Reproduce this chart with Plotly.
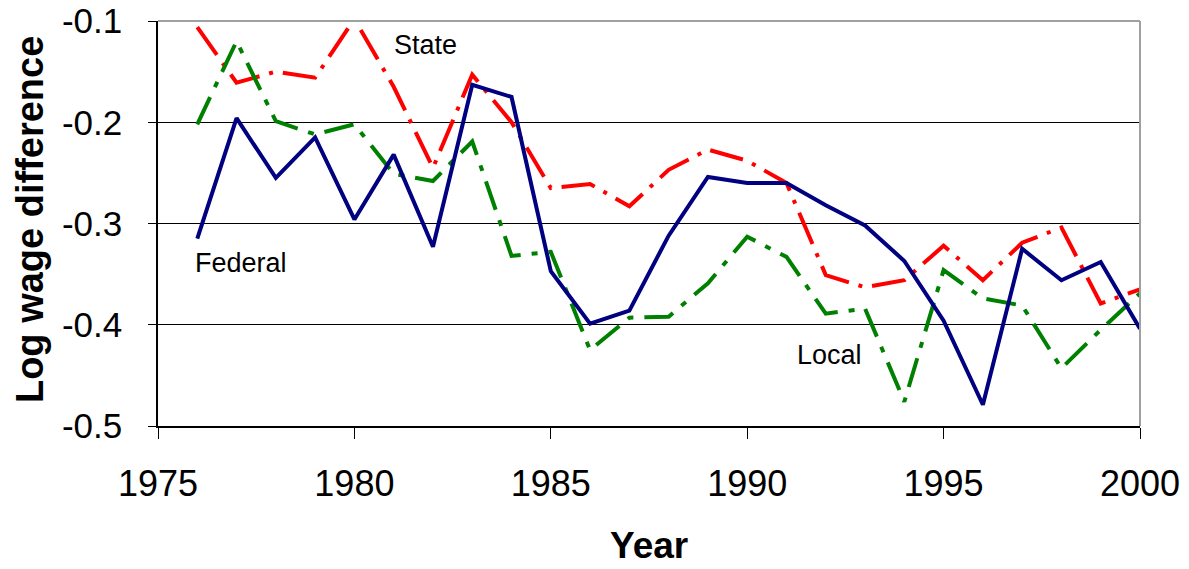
import plotly.graph_objects as go

years = list(range(1976, 2001))
federal = [-0.315, -0.196, -0.255, -0.215, -0.296, -0.232, -0.323, -0.163, -0.175, -0.347,
           -0.399, -0.386, -0.312, -0.254, -0.260, -0.260, -0.282, -0.302, -0.337, -0.396,
           -0.479, -0.325, -0.356, -0.338, -0.404]
state = [-0.106, -0.161, -0.150, -0.156, -0.098, -0.165, -0.245, -0.153, -0.200, -0.265,
         -0.261, -0.283, -0.247, -0.227, -0.238, -0.260, -0.351, -0.363, -0.356, -0.322,
         -0.356, -0.319, -0.304, -0.379, -0.365]
local = [-0.202, -0.120, -0.199, -0.212, -0.202, -0.251, -0.258, -0.219, -0.332, -0.328,
         -0.425, -0.393, -0.392, -0.359, -0.313, -0.333, -0.389, -0.384, -0.476, -0.346,
         -0.374, -0.381, -0.443, -0.405, -0.369]

x_ticks = [1975, 1980, 1985, 1990, 1995, 2000]
y_ticks = [-0.5, -0.4, -0.3, -0.2, -0.1]
y_ticktext = ["-0.5", "-0.4", "-0.3", "-0.2", "-0.1"]

FONT = "Liberation Sans, Arial, sans-serif"

fig = go.Figure()
fig.add_trace(go.Scatter(x=years, y=state, mode="lines", name="State",
                         line=dict(color="#FF0000", width=4, dash="34px,10px,4px,10px")))
fig.add_trace(go.Scatter(x=years, y=local, mode="lines", name="Local",
                         line=dict(color="#008000", width=4, dash="30px,11px,6px,11px")))
fig.add_trace(go.Scatter(x=years, y=federal, mode="lines", name="Federal",
                         line=dict(color="#000080", width=4)))

annos = [
    dict(x=1981.82, y=-0.1237, text="State"),
    dict(x=1977.11, y=-0.339, text="Federal"),
    dict(x=1992.1, y=-0.43, text="Local"),
]
for a in annos:
    fig.add_annotation(x=a["x"], y=a["y"], text=a["text"], showarrow=False,
                       xanchor="center", yanchor="middle",
                       font=dict(family=FONT, size=27, color="black"))

# axis titles as annotations (paper coordinates)
fig.add_annotation(xref="paper", yref="paper", x=-0.1303, y=0.5086,
                   text="<b>Log wage difference</b>", textangle=-90, showarrow=False,
                   xanchor="center", yanchor="middle",
                   font=dict(family=FONT, size=38, color="black"))
fig.add_annotation(xref="paper", yref="paper", x=0.5, y=-0.294,
                   text="<b>Year</b>", showarrow=False,
                   xanchor="center", yanchor="middle",
                   font=dict(family=FONT, size=37, color="black"))

fig.update_layout(
    width=1189, height=569,
    margin=dict(l=158, r=49, t=21, b=143),
    paper_bgcolor="white", plot_bgcolor="white",
    showlegend=False,
    font=dict(family=FONT, color="black"),
    xaxis=dict(
        range=[1975, 2000], tickvals=x_ticks, ticktext=[str(v) for v in x_ticks],
        showgrid=False, zeroline=False, automargin=False,
        showline=True, linecolor="black", linewidth=1.5, mirror=False,
        ticks="outside", ticklen=11, tickcolor="black", tickwidth=1,
        tickfont=dict(family=FONT, size=36, color="black"),
        ticklabelstandoff=14, ticklabeloverflow="allow",
    ),
    yaxis=dict(
        range=[-0.5, -0.1], tickvals=y_ticks, ticktext=y_ticktext,
        showgrid=True, gridcolor="black", gridwidth=1,
        zeroline=False, automargin=False,
        showline=True, linecolor="black", linewidth=1.5, mirror=False,
        ticks="outside", ticklen=8, tickcolor="black", tickwidth=1,
        tickfont=dict(family=FONT, size=35, color="black"),
        ticklabelstandoff=19, ticklabeloverflow="allow",
    ),
    shapes=[
        dict(type="line", xref="paper", yref="paper", x0=0, x1=1, y0=1, y1=1,
             line=dict(color="#A0A0A0", width=2)),
        dict(type="line", xref="paper", yref="paper", x0=1, x1=1, y0=0, y1=1,
             line=dict(color="#A0A0A0", width=2)),
    ],
)

fig.write_html("out.html", config={"displayModeBar": False},
               post_script="document.body.style.margin='0';document.body.style.overflow='hidden';")
